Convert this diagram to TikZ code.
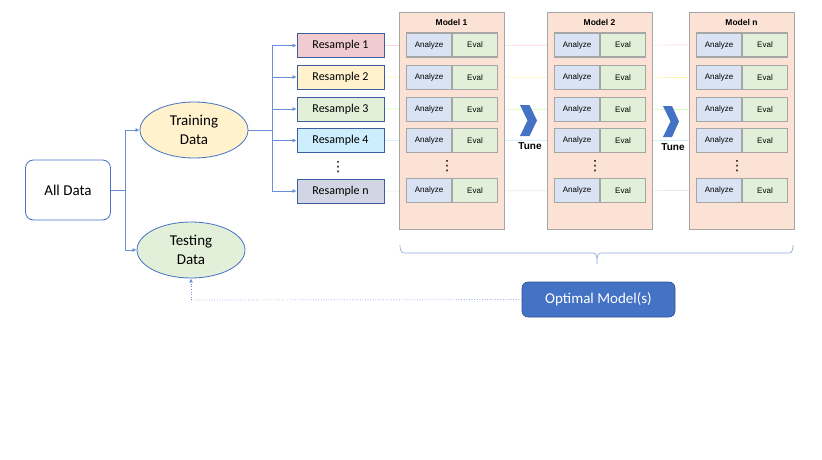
\documentclass[tikz,border=0pt]{standalone}
\usepackage{fontspec}
\setmainfont{Carlito}
\newfontfamily\arialf{Liberation Sans}
\newfontfamily\dejavu{DejaVu Sans}
\usetikzlibrary{arrows.meta,shapes.geometric}
\pgfdeclarelayer{background}
\pgfsetlayers{background,main}
\definecolor{bluemain}{HTML}{4472C4}
\definecolor{bluedark}{HTML}{2F528F}
\definecolor{rsborder}{HTML}{3C5E9E}
\definecolor{trainfill}{HTML}{FFF2CC}
\definecolor{testfill}{HTML}{E2F0D9}
\definecolor{rsone}{HTML}{F0CCD0}
\definecolor{rstwo}{HTML}{FFF2CC}
\definecolor{rsthree}{HTML}{E2F0D9}
\definecolor{rsfour}{HTML}{CDEEFC}
\definecolor{rsn}{HTML}{D2D6E4}
\definecolor{panelfill}{HTML}{FBE2D5}
\definecolor{panelborder}{HTML}{A6A6A6}
\definecolor{anfill}{HTML}{DAE3F3}
\definecolor{evfill}{HTML}{E2F0D9}
\definecolor{bracecol}{HTML}{8FAADC}
\definecolor{connblue}{HTML}{6A8FD4}
\tikzset{
  alldatabox/.style={draw=bluemain, line width=0.8pt, rounded corners=8pt, fill=white,
    minimum width=85pt, minimum height=60pt, font=\fontsize{15}{18}\selectfont},
  ellnode/.style={ellipse, draw=bluemain, line width=0.8pt, minimum width=108pt, minimum height=56pt,
    inner sep=0pt, align=center, font=\fontsize{15}{18.5}\selectfont},
  rsbox/.style={draw=rsborder, line width=0.9pt, minimum width=87pt, minimum height=24pt,
    inner sep=0pt, font=\fontsize{12}{14}\selectfont},
  panel/.style={draw=panelborder, line width=0.9pt, fill=panelfill, minimum width=105pt,
    minimum height=217pt, inner sep=0pt},
  paneltitle/.style={font=\arialf\bfseries\fontsize{8.5}{10}\selectfont, inner sep=0pt},
  anbox/.style={draw=panelborder, line width=1.1pt, fill=anfill, minimum width=45pt, minimum height=24pt,
    inner sep=0pt, font=\arialf\fontsize{8}{9}\selectfont},
  evbox/.style={draw=panelborder, line width=1.1pt, fill=evfill, minimum width=45pt, minimum height=24pt,
    inner sep=0pt, font=\arialf\fontsize{8}{9}\selectfont},
  conn/.style={draw=connblue, line width=0.6pt},
  arr/.style={conn, -{Latex[length=4pt,width=4pt]}},
  vdotsnode/.style={inner sep=0pt, font=\dejavu\fontsize{14}{14}\selectfont},
  chev/.style={fill=bluemain, draw=none},
  tunelabel/.style={font=\arialf\bfseries\fontsize{10}{12}\selectfont, inner sep=0pt},
  optbox/.style={draw=bluedark, line width=0.6pt, fill=bluemain, rounded corners=6pt, text=white,
    minimum width=153pt, minimum height=35pt, font=\fontsize{15}{18}\selectfont},
  faint/.style={line width=0.6pt, opacity=0.3},
}
\begin{document}
\begin{tikzpicture}[x=1pt,y=-1pt]
\useasboundingbox (0,0) rectangle (822,460);

% left part
\node[alldatabox] (all) at (68,190) {All Data};
\node[ellnode, fill=trainfill] (train) at (194,130) {Training\\Data};
\node[ellnode, fill=testfill] (test) at (191,250) {Testing\\Data};
\coordinate (j1) at (125,190);
\draw[conn] (all.east) -- (j1);
\draw[arr] (j1) |- (train.west);
\draw[arr] (j1) |- (test.west);

% resamples
\node[rsbox, fill=rsone] (r1) at (340.5,45.5) {Resample 1};
\node[rsbox, fill=rstwo] (r2) at (340.5,77) {Resample 2};
\node[rsbox, fill=rsthree] (r3) at (340.5,109) {Resample 3};
\node[rsbox, fill=rsfour] (r4) at (340.5,140.5) {Resample 4};
\node[rsbox, fill=rsn] (r5) at (340.5,191) {Resample n};
\node[vdotsnode] (rdots) at (338,167) {⋮};
\coordinate (j2) at (272,130);
\draw[conn] (train.east) -- (j2);
\foreach \i in {1,...,5} {\draw[arr] (j2) |- (r\i.west);}

% model panels
\foreach \name/\left/\title in {m1/399/Model 1, m2/547/Model 2, m3/689/Model n} {
  \node[panel] (\name) at (\left+52.5,120.5) {};
  \node[paneltitle] (\name t) at (\left+52.5,22) {\title};
  \foreach \row/\y in {1/45, 2/77.5, 3/109.5, 4/140.5, 5/190.5} {
    \node[anbox] (\name a\row) at (\left+30,\y) {Analyze};
    \node[evbox] (\name e\row) at (\left+76,\y) {Eval};
  }
  \node[vdotsnode] (\name dots) at (\left+48,166) {⋮};
}

% faint row lines
\begin{pgfonlayer}{background}
\draw[faint, draw=red!50] (r1.east) -- (m3a1.west);
\draw[faint, draw=yellow!80!orange] (r2.east) -- (m3a2.west);
\draw[faint, draw=green!50!lime] (r3.east) -- (m3a3.west);
\draw[faint, draw=cyan!60] (r4.east) -- (m3a4.west);
\draw[faint, draw=gray!60] (r5.east) -- (m3a5.west);
\end{pgfonlayer}

% chevrons
\fill[chev] (520,105) -- (529.5,105) -- (537,120.5) -- (529.5,136) -- (520,136) -- (527.5,120.5) -- cycle;
\node[tunelabel] (tune1) at (530,146) {Tune};
\fill[chev] (663,106) -- (672,106) -- (679,121.5) -- (672,137) -- (663,137) -- (670.5,121.5) -- cycle;
\node[tunelabel] (tune2) at (673,147) {Tune};

% brace
\draw[draw=bracecol, line width=0.7pt] (400,245) to[out=-90,in=180] (404,253) -- (593,253)
  to[out=0,in=90] (597,264) to[out=90,in=180] (601,253) -- (789,253) to[out=0,in=-90] (793,245);

% optimal model
\node[optbox] (opt) at (598.5,299.5) {Optimal Model(s)};
\coordinate (j3) at (191,300);
\draw[conn, dotted, line width=0.7pt] (opt.west) -- (j3);
\draw[arr, dotted, line width=0.7pt] (j3) -- (test.south);
\end{tikzpicture}
\end{document}
